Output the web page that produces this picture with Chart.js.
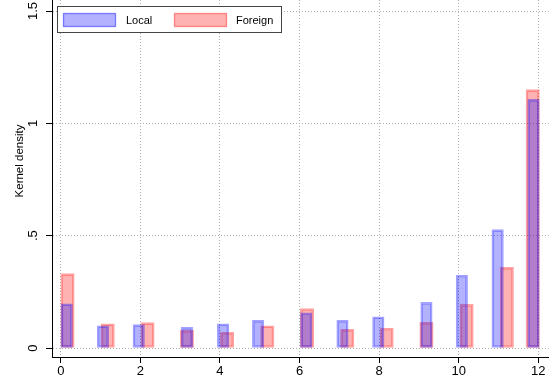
<!DOCTYPE html>
<html>
<head>
<meta charset="utf-8">
<script src="https://cdn.jsdelivr.net/npm/chart.js@4/dist/chart.umd.min.js"></script>
<style>
  html, body { margin: 0; padding: 0; background: #fff; }
  #wrap { width: 549px; height: 383px; }
</style>
</head>
<body>
<div id="wrap"><canvas id="c" width="549" height="383"></canvas></div>
<script>
// Bar positions (x) and kernel density heights (y) for each group
const localX = [0.15, 1.06, 1.96, 3.17, 4.08, 4.96, 6.17, 7.08, 7.98, 9.19, 10.08, 10.98, 11.88];
const localY = [0.197, 0.099, 0.104, 0.092, 0.108, 0.123, 0.157, 0.123, 0.139, 0.203, 0.324, 0.527, 1.107];
const foreignX = [0.17, 1.18, 2.18, 3.17, 4.18, 5.19, 6.19, 7.20, 8.19, 9.19, 10.20, 11.21, 11.86];
const foreignY = [0.331, 0.108, 0.113, 0.079, 0.070, 0.099, 0.175, 0.083, 0.088, 0.114, 0.194, 0.359, 1.150];

const seriesNames = ['Local', 'Foreign'];
const xTicks = [0, 2, 4, 6, 8, 10, 12];
const yTicks = [0, 0.5, 1, 1.5];
const yTickLabels = ['0', '.5', '1', '1.5'];
const yTitle = 'Kernel density';

const FONT = '"Liberation Sans", Arial, Helvetica, sans-serif';
const BLUE_FILL = 'rgba(0,0,255,0.30)';
const BLUE_LINE = 'rgba(0,0,255,0.36)';
const RED_FILL = 'rgba(255,0,0,0.30)';
const RED_LINE = 'rgba(255,0,0,0.36)';

// Rotated y tick labels, axis title and the boxed legend
const decorations = {
  id: 'decorations',
  afterDraw(chart) {
    const ctx = chart.ctx;
    const ys = chart.scales.y;
    ctx.save();
    ctx.fillStyle = '#000';
    ctx.font = '13px ' + FONT;
    ctx.textAlign = 'center';
    ctx.textBaseline = 'alphabetic';
    yTicks.forEach((v, i) => {
      const py = ys.getPixelForValue(v);
      ctx.save();
      ctx.translate(37, py);
      ctx.rotate(-Math.PI / 2);
      ctx.fillText(yTickLabels[i], 0, 0);
      ctx.restore();
    });
    ctx.font = '11.5px ' + FONT;
    ctx.save();
    ctx.translate(22.5, 161);
    ctx.rotate(-Math.PI / 2);
    ctx.fillText(yTitle, 0, 0);
    ctx.restore();

    // legend
    ctx.fillStyle = '#fff';
    ctx.fillRect(57, 6, 225, 27);
    ctx.strokeStyle = '#444';
    ctx.lineWidth = 1;
    ctx.strokeRect(57.5, 6.5, 224, 26);
    const sw = [
      { x: 63.5, fill: BLUE_FILL, line: 'rgba(0,0,255,0.45)', tx: 126 },
      { x: 174.5, fill: RED_FILL, line: 'rgba(255,0,0,0.40)', tx: 236 }
    ];
    ctx.font = '11px ' + FONT;
    ctx.textAlign = 'left';
    sw.forEach((s, i) => {
      ctx.fillStyle = s.fill;
      ctx.fillRect(s.x, 13.5, 52, 13);
      ctx.strokeStyle = s.line;
      ctx.lineWidth = 1.3;
      ctx.strokeRect(s.x, 13.5, 52, 13);
      ctx.fillStyle = '#000';
      ctx.fillText(chart.data.datasets[i].label, s.tx, 24);
    });
    ctx.restore();
  }
};

const gridOpts = {
  color: '#b0b0b0',
  lineWidth: 1,
  offset: false,
  drawTicks: true,
  tickLength: 6,
  tickColor: '#000',
  tickWidth: 1,
  tickBorderDash: []
};

new Chart(document.getElementById('c'), {
  type: 'bar',
  data: {
    datasets: [
      {
        label: seriesNames[0],
        data: localX.map((x, i) => ({ x: x, y: localY[i] })),
        backgroundColor: BLUE_FILL,
        borderColor: BLUE_LINE,
        borderWidth: 1.8,
        borderSkipped: false,
        barThickness: 11.5,
        grouped: false
      },
      {
        label: seriesNames[1],
        data: foreignX.map((x, i) => ({ x: x, y: foreignY[i] })),
        backgroundColor: RED_FILL,
        borderColor: RED_LINE,
        borderWidth: 1.8,
        borderSkipped: false,
        barThickness: 13.4,
        grouped: false
      }
    ]
  },
  options: {
    responsive: false,
    animation: false,
    devicePixelRatio: 1,
    layout: { padding: 0 },
    plugins: {
      legend: { display: false },
      tooltip: { enabled: false },
      title: { display: false }
    },
    scales: {
      x: {
        type: 'linear',
        min: -0.22,
        max: 12.27,
        offset: false,
        afterBuildTicks: s => { s.ticks = xTicks.map(v => ({ value: v })); },
        afterFit: s => { s.height = 26; },
        grid: gridOpts,
        border: { display: true, color: '#000', width: 1, dash: [1, 2] },
        ticks: {
          color: '#000',
          font: { family: FONT, size: 13 },
          padding: 1,
          maxRotation: 0,
          callback: v => String(v)
        }
      },
      y: {
        type: 'linear',
        min: -0.04,
        max: 1.549,
        afterBuildTicks: s => { s.ticks = yTicks.map(v => ({ value: v })); },
        afterFit: s => { s.width = 52; },
        grid: gridOpts,
        border: { display: true, color: '#000', width: 1, dash: [1, 2] },
        ticks: { display: false }
      }
    }
  },
  plugins: [decorations]
});
</script>
</body>
</html>
